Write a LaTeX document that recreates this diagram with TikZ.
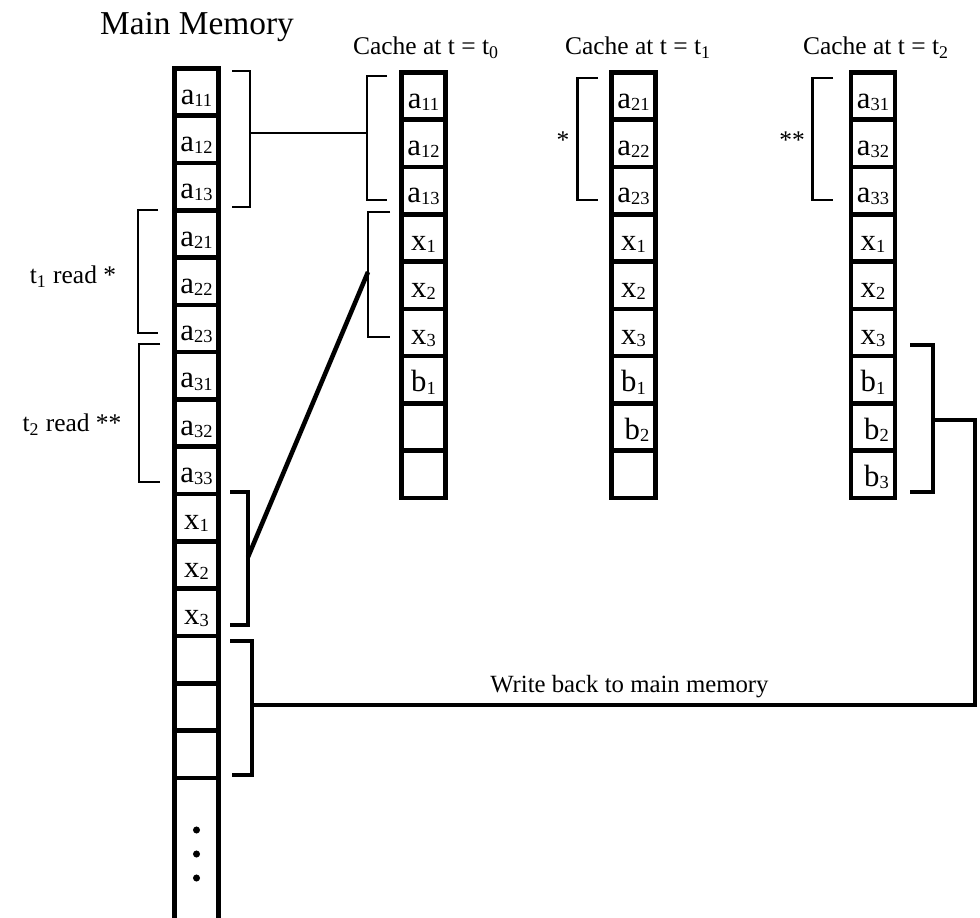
\documentclass[tikz,border=0pt]{standalone}
\usepackage{fontspec}
\setmainfont{Liberation Serif}
\usetikzlibrary{positioning}
\newcommand{\lo}[1]{\raisebox{-1.2pt}{\fontsize{10.5}{10.5}\selectfont#1}}

\begin{document}
\begin{tikzpicture}[
  x=0.02cm, y=-0.02cm,
  cell/.style={rectangle, draw, line width=2.6pt, minimum width=0.888cm, minimum height=0.946cm, inner sep=0pt, outer sep=0pt, text height=15pt, text depth=1.2pt, font=\fontsize{17.5}{17.5}\selectfont},
  brk/.style={line width=1.7pt},
  brkb/.style={line width=2.6pt},
  lnk/.style={line width=1.3pt},
  lbl/.style={font=\fontsize{14.5}{16}\selectfont, inner sep=0pt}
]
\useasboundingbox (0,0) rectangle (980,918);

% Titles
\node[font=\fontsize{19}{20}\selectfont, anchor=base, inner sep=0pt] (ttlmem) at (197,35) {Main Memory};
\node[lbl, anchor=base] (ttlc0) at (426,55) {Cache at t = t\textsubscript{0}};
\node[lbl, anchor=base] (ttlc1) at (638,55) {Cache at t = t\textsubscript{1}};
\node[lbl, anchor=base] (ttlc2) at (876,55) {Cache at t = t\textsubscript{2}};

% Main memory
\node[cell] (ma11) at (196.5,92.0) {a\lo{11}};
\node[cell] (ma12) at (196.5,139.3) {a\lo{12}};
\node[cell] (ma13) at (196.5,186.6) {a\lo{13}};
\node[cell] (ma21) at (196.5,233.9) {a\lo{21}};
\node[cell] (ma22) at (196.5,281.2) {a\lo{22}};
\node[cell] (ma23) at (196.5,328.5) {a\lo{23}};
\node[cell] (ma31) at (196.5,375.8) {a\lo{31}};
\node[cell] (ma32) at (196.5,423.1) {a\lo{32}};
\node[cell] (ma33) at (196.5,470.4) {a\lo{33}};
\node[cell] (mx1) at (196.5,517.7) {x\lo{1}};
\node[cell] (mx2) at (196.5,565.0) {x\lo{2}};
\node[cell] (mx3) at (196.5,612.3) {x\lo{3}};
\node[cell] (me1) at (196.5,659.6) {};
\node[cell] (me2) at (196.5,706.9) {};
\node[cell] (me3) at (196.5,754.2) {};
\node[cell, minimum height=3.343cm] (mrest) at (196.5,861.4) {};
\fill (196.5,830) circle (2pt) (196.5,854) circle (2pt) (196.5,878) circle (2pt);

% Cache at t0
\node[cell] (c0a11) at (423.5,96.0) {a\lo{11}};
\node[cell] (c0a12) at (423.5,143.3) {a\lo{12}};
\node[cell] (c0a13) at (423.5,190.6) {a\lo{13}};
\node[cell] (c0x1) at (423.5,237.9) {x\lo{1}};
\node[cell] (c0x2) at (423.5,285.2) {x\lo{2}};
\node[cell] (c0x3) at (423.5,332.5) {x\lo{3}};
\node[cell] (c0b1) at (423.5,379.8) {b\lo{1}};
\node[cell] (c0e1) at (423.5,427.1) {};
\node[cell] (c0e2) at (423.5,474.4) {};

% Cache at t1
\node[cell] (c1a21) at (633.5,96.0) {a\lo{21}};
\node[cell] (c1a22) at (633.5,143.3) {a\lo{22}};
\node[cell] (c1a23) at (633.5,190.6) {a\lo{23}};
\node[cell] (c1x1) at (633.5,237.9) {x\lo{1}};
\node[cell] (c1x2) at (633.5,285.2) {x\lo{2}};
\node[cell] (c1x3) at (633.5,332.5) {x\lo{3}};
\node[cell] (c1b1) at (633.5,379.8) {b\lo{1}};
\node[cell] (c1b2) at (633.5,427.1) {\hspace{4pt}b\lo{2}};
\node[cell] (c1e1) at (633.5,474.4) {};

% Cache at t2
\node[cell] (c2a31) at (873,96.0) {a\lo{31}};
\node[cell] (c2a32) at (873,143.3) {a\lo{32}};
\node[cell] (c2a33) at (873,190.6) {a\lo{33}};
\node[cell] (c2x1) at (873,237.9) {x\lo{1}};
\node[cell] (c2x2) at (873,285.2) {x\lo{2}};
\node[cell] (c2x3) at (873,332.5) {x\lo{3}};
\node[cell] (c2b1) at (873,379.8) {b\lo{1}};
\node[cell] (c2b2) at (873,427.1) {\hspace{4pt}b\lo{2}};
\node[cell] (c2b3) at (873,474.4) {\hspace{4pt}b\lo{3}};

% Brackets
\draw[brk] (232,71) -- (250,71) -- (250,207) -- (232,207);
\draw[brk] (387,76) -- (367,76) -- (367,200) -- (387,200);
\draw[brk] (158,210) -- (138,210) -- (138,333) -- (158,333);
\draw[brk] (160,344) -- (139,344) -- (139,482) -- (160,482);
\draw[brkb] (230,492) -- (248,492) -- (248,625) -- (230,625);
\draw[brk] (390,212) -- (368,212) -- (368,337) -- (390,337);
\draw[brkb] (230,641) -- (252,641) -- (252,775) -- (232,775);
\draw[brk] (598,78) -- (577,78) -- (577,200) -- (598,200);
\draw[brk] (833,78) -- (812,78) -- (812,200) -- (833,200);
\draw[brkb] (910,345) -- (933,345) -- (933,492) -- (910,492);
\coordinate (mA) at (250,133);
\coordinate (cA) at (367,133);
\coordinate (mX) at (248,557);
\coordinate (cX) at (368,272);
\coordinate (mE) at (252,705);
\coordinate (cB) at (933,420);

% Labels
\node[lbl, anchor=base] (rd1) at (73,284) {t\textsubscript{1} read *};
\node[lbl, anchor=base] (rd2) at (72,432) {t\textsubscript{2} read **};
\node[lbl] (st1) at (563,140) {*};
\node[lbl] (st2) at (792,140) {**};

% Connections
\draw[lnk] (mA) -- (cA);
\draw[brkb] (mX) -- (cX);
\draw[brkb] (cB) -- (975,420) |- node[pos=0.739, above=3pt, lbl, font=\fontsize{14.1}{16}\selectfont] (wb) {Write back to main memory} (mE);

\end{tikzpicture}
\end{document}
